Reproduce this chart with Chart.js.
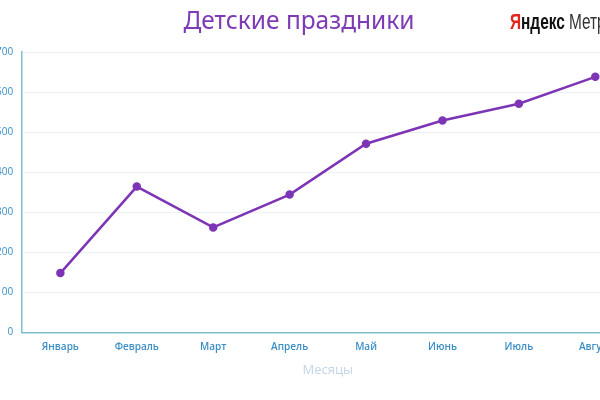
<!DOCTYPE html>
<html>
<head>
<meta charset="utf-8">
<script src="https://cdn.jsdelivr.net/npm/chart.js@4/dist/chart.umd.min.js"></script>
<style>
html,body{margin:0;padding:0;background:#fff;overflow:hidden;width:600px;height:400px;}
#wrap{position:absolute;left:-17px;top:0;width:656px;height:400px;}
</style>
</head>
<body>
<div id="wrap"><canvas id="c" width="656" height="400"></canvas></div>
<script>
const chartTitle = "Детские праздники";
const axisTitleX = "Месяцы";
const months = ["Январь","Февраль","Март","Апрель","Май","Июнь","Июль","Август"];
const values = [148, 364, 262, 344, 471, 529, 571, 638];
const yTicks = [0,100,200,300,400,500,600,700];

const OFFSET = 17; // canvas is shifted left by this many px

const headerPlugin = {
  id: 'header',
  afterDraw(chart){
    const ctx = chart.ctx;
    ctx.save();
    ctx.textBaseline = 'alphabetic';
    // Title
    ctx.font = '24.5px "Noto Sans", "Open Sans", sans-serif';
    ctx.fillStyle = '#7E3BB5';
    ctx.textAlign = 'center';
    ctx.fillText(chartTitle, 299 + OFFSET, 29);
    // Logo
    ctx.textAlign = 'left';
    ctx.translate(510 + OFFSET, 29);
    ctx.scale(0.7, 1);
    let x = 0;
    ctx.font = 'bold 22px "Liberation Sans", sans-serif';
    ctx.fillStyle = '#E52620';
    ctx.fillText('Я', x, 0);
    x += ctx.measureText('Я').width;
    ctx.fillStyle = '#111';
    ctx.fillText('ндекс', x, 0);
    x += ctx.measureText('ндекс').width + 6;
    ctx.font = '22px "Liberation Sans", sans-serif';
    ctx.fillStyle = '#333';
    ctx.fillText('Метрика', x, 0);
    ctx.restore();
  }
};

new Chart(document.getElementById('c'), {
  type: 'line',
  data: {
    labels: months,
    datasets: [{
      data: values,
      borderColor: '#7D35B5',
      backgroundColor: '#7D35B5',
      borderWidth: 2.5,
      pointRadius: 3,
      pointHoverRadius: 3,
      tension: 0,
      fill: false
    }]
  },
  options: {
    responsive: false,
    animation: false,
    devicePixelRatio: 1,
    layout: { padding: { left: 4, right: 4, top: 52, bottom: 22 } },
    plugins: {
      legend: { display: false },
      tooltip: { enabled: false },
      title: { display: false }
    },
    scales: {
      x: {
        offset: true,
        grid: { display: false, drawTicks: false },
        border: { display: true, color: '#7DBFCB', width: 1.5 },
        ticks: {
          color: '#3B8FC6',
          font: { family: '"Open Sans", sans-serif', size: 10, weight: '600', lineHeight: 0.6 },
          padding: 12,
          maxRotation: 0
        },
        title: {
          display: true,
          text: axisTitleX,
          color: '#C3D5E6',
          font: { family: '"Open Sans", sans-serif', size: 13 },
          padding: { top: 0, bottom: 0 }
        }
      },
      y: {
        min: 0, max: 700,
        afterBuildTicks(axis){ axis.ticks = yTicks.map(v => ({value: v})); },
        grid: { color: '#EDF1F3', drawTicks: false, lineWidth: 1 },
        border: { display: true, color: '#7DBFCB', width: 1.5 },
        ticks: {
          color: '#3B8FC6',
          font: { family: '"Open Sans", sans-serif', size: 10 },
          padding: 9
        }
      }
    }
  },
  plugins: [headerPlugin]
});
</script>
</body>
</html>
